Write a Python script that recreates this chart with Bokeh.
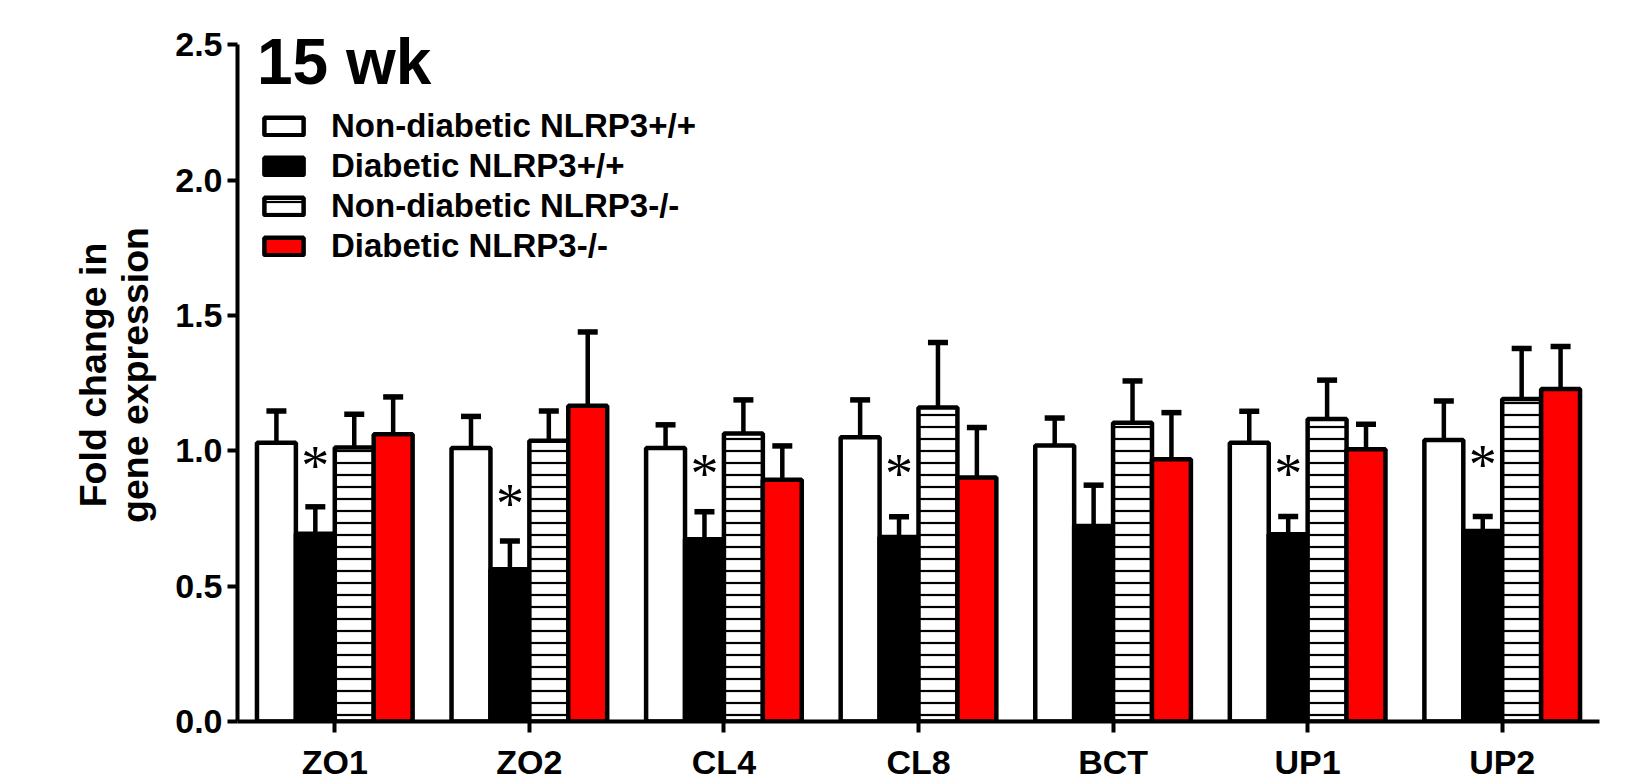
from bokeh.plotting import figure
from bokeh.models import (ColumnDataSource, FactorRange, Range1d, Whisker, TeeHead,
                          Legend, LegendItem, Label, FixedTicker, PrintfTickFormatter)
from bokeh.transform import dodge
from bokeh.core.properties import value
from bokeh.embed import file_html
from bokeh.resources import INLINE

# ---- data ----
categories = ["ZO1", "ZO2", "CL4", "CL8", "BCT", "UP1", "UP2"]
series_labels = ["Non-diabetic NLRP3+/+", "Diabetic NLRP3+/+",
                 "Non-diabetic NLRP3-/-", "Diabetic NLRP3-/-"]

nondiab_wt = [1.03, 1.01, 1.01, 1.05, 1.02, 1.03, 1.04]
nondiab_wt_sem = [0.117, 0.117, 0.086, 0.138, 0.101, 0.116, 0.144]
diab_wt = [0.694, 0.562, 0.673, 0.682, 0.722, 0.692, 0.704]
diab_wt_sem = [0.099, 0.105, 0.102, 0.074, 0.151, 0.065, 0.053]
nondiab_ko = [1.012, 1.037, 1.064, 1.160, 1.104, 1.117, 1.191]
nondiab_ko_sem = [0.123, 0.110, 0.124, 0.240, 0.154, 0.144, 0.187]
diab_ko = [1.061, 1.166, 0.893, 0.901, 0.969, 1.006, 1.228]
diab_ko_sem = [0.138, 0.273, 0.125, 0.185, 0.172, 0.092, 0.157]

star_categories = ["ZO1", "ZO2", "CL4", "CL8", "UP1", "UP2"]
star_y = [0.956, 0.815, 0.926, 0.926, 0.926, 0.959]

FONT = "Liberation Sans"

src = ColumnDataSource(dict(
    cats=categories,
    v1=nondiab_wt, u1=[a + b for a, b in zip(nondiab_wt, nondiab_wt_sem)],
    v2=diab_wt, u2=[a + b for a, b in zip(diab_wt, diab_wt_sem)],
    v3=nondiab_ko, u3=[a + b for a, b in zip(nondiab_ko, nondiab_ko_sem)],
    v4=diab_ko, u4=[a + b for a, b in zip(diab_ko, diab_ko_sem)],
))
star_src = ColumnDataSource(dict(cats=star_categories, y=star_y,
                                 t=["*"] * len(star_categories)))

p = figure(x_range=FactorRange(factors=categories, range_padding=0),
           y_range=Range1d(0, 2.56),
           frame_width=1362, frame_height=693,
           min_border_left=237, min_border_right=42,
           min_border_top=28, min_border_bottom=61,
           output_backend="svg", toolbar_location=None)
p.outline_line_color = None
p.xgrid.grid_line_color = None
p.ygrid.grid_line_color = None
p.background_fill_color = "white"

offsets = [-0.3, -0.1, 0.1, 0.3]
styles = [
    dict(fill_color="white"),
    dict(fill_color="black"),
    dict(fill_color="white", hatch_pattern="horizontal_line", hatch_scale=12,
         hatch_weight=2.2, hatch_color="black"),
    dict(fill_color="#ff0000"),
]
renderers = []
for i, (off, st) in enumerate(zip(offsets, styles), start=1):
    r = p.vbar(x=dodge("cats", off, range=p.x_range), top=f"v{i}", width=0.2,
               source=src, line_color="black", line_width=4.5, **st)
    renderers.append(r)

for i, off in enumerate(offsets, start=1):
    w = Whisker(base=dodge("cats", off, range=p.x_range), upper=f"u{i}", lower=f"v{i}",
                source=src, line_color="black", line_width=4.5,
                upper_head=TeeHead(size=20, line_width=5.5, line_color="black"),
                lower_head=None, level="glyph")
    p.add_layout(w)

p.text(x=dodge("cats", -0.1, range=p.x_range), y="y", text="t", source=star_src,
       text_font=value("Liberation Serif"), text_font_size="56px",
       text_align="center", text_baseline="middle", text_color="black", y_offset=3)

legend = Legend(items=[LegendItem(label=lab, renderers=[r])
                       for lab, r in zip(series_labels, renderers)],
                location=(22, 456), border_line_color=None, background_fill_alpha=0,
                padding=0, margin=0, spacing=2, glyph_width=49, glyph_height=22,
                label_standoff=23, label_text_font=FONT, label_text_font_style="bold",
                label_text_font_size="33px", label_text_color="black", label_height=22)
p.add_layout(legend)

p.add_layout(Label(x=0.1, y=2.438, text="15 wk", text_font=FONT,
                   text_font_style="bold", text_font_size="64px",
                   text_baseline="alphabetic", text_color="black"))

# axes
p.yaxis.ticker = FixedTicker(ticks=[0, 0.5, 1.0, 1.5, 2.0, 2.5])
p.yaxis.formatter = PrintfTickFormatter(format="%.1f")
p.yaxis.bounds = (0, 2.5)
for ax in (p.xaxis[0], p.yaxis[0]):
    ax.axis_line_width = 4
    ax.axis_line_color = "black"
    ax.major_tick_line_width = 4
    ax.major_tick_line_color = "black"
    ax.major_tick_in = 0
    ax.minor_tick_out = 0
    ax.minor_tick_in = 0
    ax.major_label_text_font = FONT
    ax.major_label_text_font_style = "bold"
    ax.major_label_text_font_size = "34px"
    ax.major_label_text_color = "black"
p.yaxis.major_tick_out = 10
p.yaxis.major_label_standoff = 5
p.xaxis.major_tick_out = 11
p.xaxis.major_label_standoff = 10
p.yaxis.axis_label = "Fold change in\ngene expression"
p.yaxis.axis_label_text_font = FONT
p.yaxis.axis_label_text_font_style = "bold"
p.yaxis.axis_label_text_font_size = "37.5px"
p.yaxis.axis_label_text_color = "black"
p.yaxis.axis_label_standoff = 16
p.yaxis.axis_label_text_line_height = 1.0

open("out.html", "w").write(file_html(p, INLINE))
